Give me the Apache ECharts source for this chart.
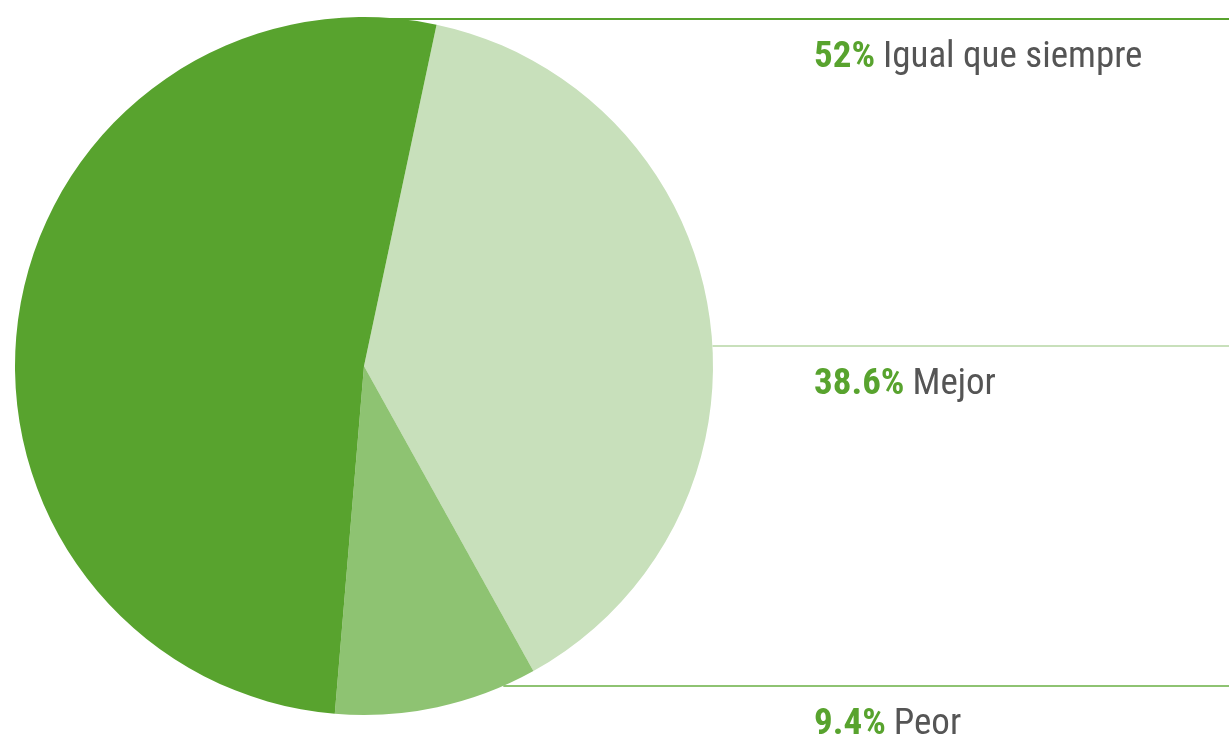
<!DOCTYPE html>
<html>
<head>
<meta charset="utf-8">
<script src="https://cdn.jsdelivr.net/npm/echarts@6/dist/echarts.min.js"></script>
<style>
  html, body { margin: 0; padding: 0; background: #fff; }
  #chart { width: 1229px; height: 739px; }
</style>
</head>
<body>
<div id="chart"></div>
<script>
// data, clockwise from the top
const categories = ['Mejor', 'Peor', 'Igual que siempre']
const values = [38.6, 9.4, 52]
const colors = ['#c8e0bb', '#8ec372', '#58a32e']

// where each leader line sits (px) and where the text starts
const lineY = [346, 686, 19]
const labelX = 814
const cx = 364, cy = 366, r = 349
const font = "'Roboto Condensed', 'Liberation Sans Narrow', 'Arial Narrow', Roboto, sans-serif"

const myChart = echarts.init(document.getElementById('chart'))

const option = {
  animation: false,
  series: [
    {
      type: 'pie',
      center: [cx, cy],
      radius: r,
      startAngle: 78,
      clockwise: true,
      avoidLabelOverlap: false,
      itemStyle: { borderWidth: 0 },
      label: {
        show: true,
        position: 'outside',
        overflow: 'none',
        fontFamily: font,
        formatter: p => '{p|' + p.value + '%}{n|' + p.name + '}',
        rich: {
          p: { fontSize: 37, fontWeight: 'bold', color: '#58a32e', fontFamily: font, padding: [0, 8, 0, 0] },
          n: { fontSize: 37, color: '#555555', fontFamily: font }
        }
      },
      labelLine: { show: true, smooth: false, lineStyle: { width: 2 } },
      labelLayout: function (params) {
        const y = lineY[params.dataIndex]
        const dy = Math.abs(y - cy)
        const x0 = dy >= r - 5 ? cx : cx + Math.sqrt(r * r - dy * dy)
        return {
          x: labelX,
          y: y + 39,
          align: 'left',
          verticalAlign: 'middle',
          hideOverlap: false,
          moveOverlap: false,
          labelLinePoints: [[x0, y], [(x0 + 1229) / 2, y], [1229, y]]
        }
      },
      data: categories.map((name, i) => ({
        name: name,
        value: values[i],
        itemStyle: { color: colors[i] },
        labelLine: { lineStyle: { color: colors[i] } }
      }))
    }
  ]
}
myChart.setOption(option)
</script>
</body>
</html>
